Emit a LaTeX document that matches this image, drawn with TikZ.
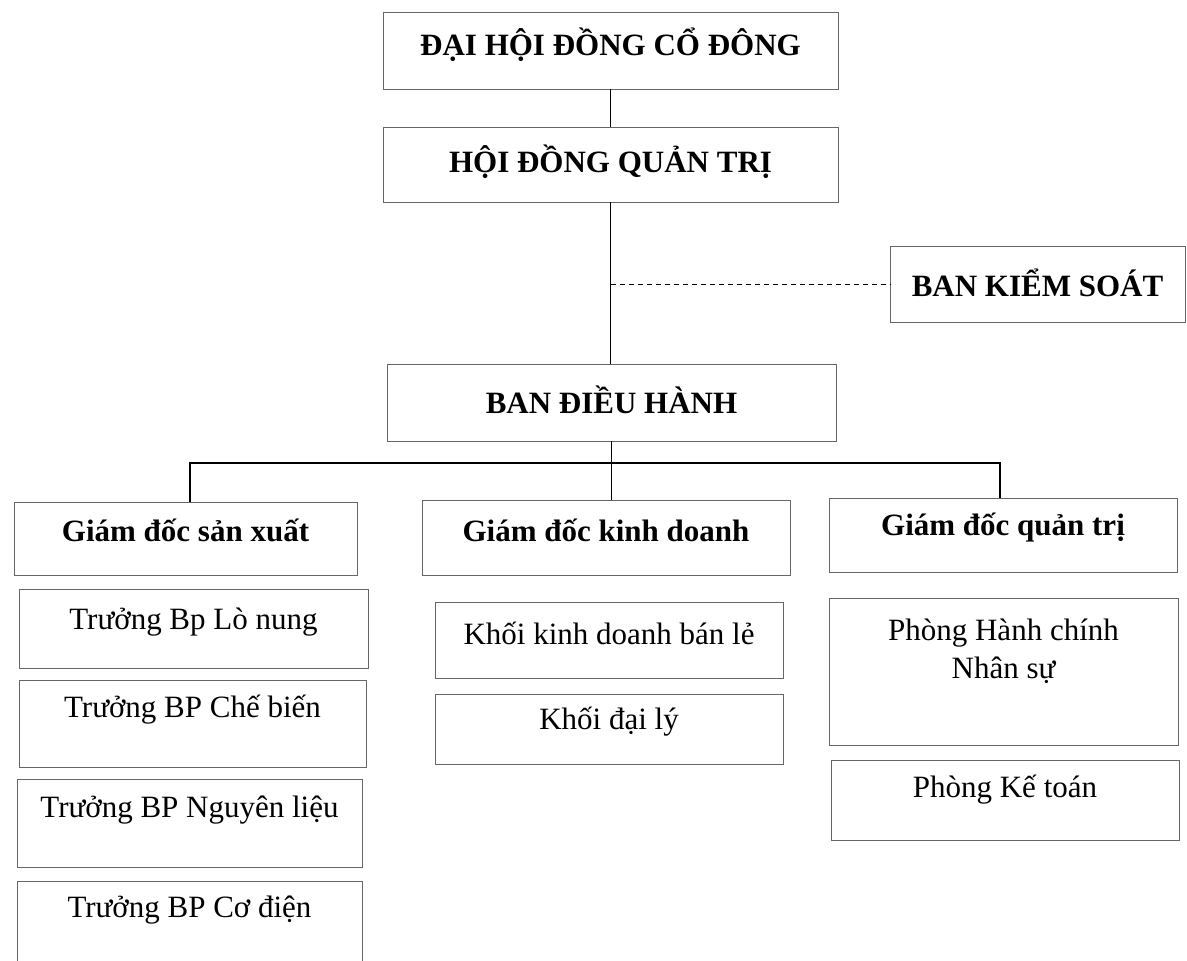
\documentclass[tikz,border=0pt]{standalone}
\usepackage{fontspec}
\setmainfont{Liberation Serif}
\begin{document}
\begin{tikzpicture}[x=1pt,y=-1pt,
  box/.style={draw=black!60,line width=0.8pt,inner sep=0pt,outer sep=0pt},
  lbl/.style={inner sep=0pt,font=\fontsize{31}{38}\selectfont,align=center},
  hlbl/.style={lbl,font=\fontsize{31}{38}\selectfont\bfseries},
  conn/.style={draw=black,line width=1.2pt}]
\useasboundingbox (0,0) rectangle (1187,961);
\fill[white] (0,0) rectangle (1187,961);
% boxes
\node[box,minimum width=455,minimum height=77] (dhdcd) at (610.5,50.5) {};
\node[box,minimum width=455,minimum height=75] (hdqt) at (610.5,164.5) {};
\node[box,minimum width=295,minimum height=76] (bks) at (1037.5,284) {};
\node[box,minimum width=449,minimum height=77] (bdh) at (611.5,402.5) {};
\node[box,minimum width=343,minimum height=73] (gdsx) at (185.5,538.5) {};
\node[box,minimum width=368,minimum height=75] (gdkd) at (606,537.5) {};
\node[box,minimum width=348,minimum height=74] (gdqt) at (1003,535) {};
\node[box,minimum width=349,minimum height=79] (ln) at (193.5,628.5) {};
\node[box,minimum width=347,minimum height=87] (cb) at (192.5,723.5) {};
\node[box,minimum width=345,minimum height=88] (nl) at (189.5,823) {};
\node[box,minimum width=345,minimum height=99] (cd) at (189.5,930.5) {};
\node[box,minimum width=348,minimum height=76] (kdbl) at (609,640) {};
\node[box,minimum width=348,minimum height=70] (dl) at (609,729) {};
\node[box,minimum width=349,minimum height=147] (hcns) at (1003.5,671.5) {};
\node[box,minimum width=348,minimum height=80] (kt) at (1005,800) {};
% labels
\node[hlbl] (tdhdcd) at (610.5,45) {ĐẠI HỘI ĐỒNG CỔ ĐÔNG};
\node[hlbl] (thdqt) at (610.5,162) {HỘI ĐỒNG QUẢN TRỊ};
\node[hlbl] (tbks) at (1037.5,283) {BAN KIỂM SOÁT};
\node[hlbl] (tbdh) at (611.5,400) {BAN ĐIỀU HÀNH};
\node[hlbl] (tgdsx) at (185.5,530) {Giám đốc sản xuất};
\node[hlbl] (tgdkd) at (606,530) {Giám đốc kinh doanh};
\node[hlbl] (tgdqt) at (1003,528) {Giám đốc quản trị};
\node[lbl] (tln) at (193.5,622) {Trưởng Bp Lò nung};
\node[lbl] (tcb) at (192.5,710) {Trưởng BP Chế biến};
\node[lbl] (tnl) at (189.5,810) {Trưởng BP Nguyên liệu};
\node[lbl] (tcd) at (189.5,910) {Trưởng BP Cơ điện};
\node[lbl] (tkdbl) at (609,633) {Khối kinh doanh bán lẻ};
\node[lbl] (tdl) at (609,722) {Khối đại lý};
\node[lbl] (thcns) at (1003.5,651) {Phòng Hành chính\\Nhân sự};
\node[lbl] (tkt) at (1005,790) {Phòng Kế toán};
% connectors
\draw[conn] (dhdcd.south) -- (dhdcd.south |- hdqt.north);
\draw[conn] (hdqt.south) -- (hdqt.south |- bdh.north);
\coordinate (dj) at (hdqt.south |- bks.west);
\draw[conn,line width=0.9pt,dash pattern=on 5pt off 4pt] (dj) -- (bks.west);
\draw[conn] (bdh.south) -- (bdh.south |- gdkd.north);
\coordinate (busL) at (190,463);
\coordinate (busR) at (1000,463);
\draw[conn] (busL |- gdsx.north) -- (busL) -- (busR) -- (busR |- gdqt.north);
\end{tikzpicture}
\end{document}
